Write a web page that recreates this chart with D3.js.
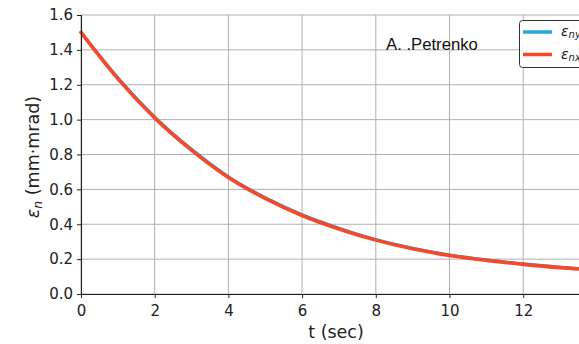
<!DOCTYPE html>
<html><head><meta charset="utf-8">
<script src="https://cdn.jsdelivr.net/npm/d3@7"></script>
<style>body{margin:0;background:#fff;}svg{display:block;}</style>
</head><body>
<svg id="c" width="579" height="344"></svg>
<script>
const tValues = [0,1,2,3,4,5,6,7,8,9,10,11,12,13,14];
const enx = [1.50,1.235,1.01,0.825,0.668,0.548,0.450,0.373,0.309,0.259,0.221,0.193,0.170,0.151,0.137];
const eny = [1.50,1.24,1.015,0.830,0.673,0.553,0.455,0.378,0.313,0.263,0.224,0.196,0.173,0.154,0.140];
const xTicks = [0,2,4,6,8,10,12];
const yTicks = [0.0,0.2,0.4,0.6,0.8,1.0,1.2,1.4,1.6];
const seriesNames = ["ny","nx"];
const seriesColors = ["#2ca4dc","#f5492b"];

const svg = d3.select("#c");
const x = d3.scaleLinear().domain([0,14]).range([81, 81+14*36.85]);
const y = d3.scaleLinear().domain([0,1.6]).range([294,15]);
const font = "DejaVu Sans, sans-serif";

// grid
const g = svg.append("g");
g.selectAll(".vg").data(xTicks).join("line")
  .attr("x1",d=>x(d)).attr("x2",d=>x(d)).attr("y1",y(0)).attr("y2",y(1.6))
  .attr("stroke","#b0b0b0").attr("stroke-width",1);
g.selectAll(".hg").data(yTicks).join("line")
  .attr("x1",x(0)).attr("x2",579).attr("y1",d=>y(d)).attr("y2",d=>y(d))
  .attr("stroke","#b0b0b0").attr("stroke-width",1);

// lines
const line = d3.line().x((d,i)=>x(tValues[i])).y(d=>y(d)).curve(d3.curveMonotoneX);
[eny, enx].forEach((s,k)=>{
  svg.append("path").datum(s).attr("d",line).attr("fill","none")
    .attr("stroke",seriesColors[k]).attr("stroke-width",k===0?3:3.6)
    .attr("stroke-linecap","round");
});

// axes
const xa = svg.append("g").attr("transform",`translate(0,${y(0)})`)
  .call(d3.axisBottom(x).tickValues(xTicks).tickFormat(d3.format("d")).tickSize(4).tickPadding(7));
const ya = svg.append("g").attr("transform",`translate(${x(0)},0)`)
  .call(d3.axisLeft(y).tickValues(yTicks).tickFormat(d3.format(".1f")).tickSize(4).tickPadding(4));
[xa,ya].forEach(a=>{
  a.select(".domain").attr("stroke","#222").attr("stroke-width",1.1);
  a.selectAll(".tick line").attr("stroke","#222");
  a.selectAll("text").attr("font-family",font).attr("font-size",15).attr("fill","#222");
});
xa.select(".domain").attr("d",`M${x(0)},0.5H579`);

// axis labels
svg.append("text").attr("x",336).attr("y",338).attr("text-anchor","middle")
  .attr("font-family",font).attr("font-size",17.5).attr("fill","#222").text("t (sec)");
const yl = svg.append("text").attr("transform","translate(39,157) rotate(-90)")
  .attr("text-anchor","middle").attr("font-family",font).attr("font-size",17.5).attr("fill","#222");
yl.append("tspan").attr("font-style","italic").text("ε");
yl.append("tspan").attr("font-style","italic").attr("font-size",12.5).attr("dy",3).text("n");
yl.append("tspan").attr("dy",-3).text(" (mm·mrad)");

// annotation
svg.append("text").attr("x",386).attr("y",50).attr("font-family","Liberation Sans, Arial, sans-serif")
  .attr("font-size",16.7).attr("fill","#111").text("A. .Petrenko");

// legend
const lg = svg.append("g");
lg.append("rect").attr("x",519.5).attr("y",20.5).attr("width",80).attr("height",47).attr("rx",3)
  .attr("fill","#fff").attr("fill-opacity",0.9).attr("stroke","#333").attr("stroke-width",1);
seriesNames.forEach((n,i)=>{
  const yy = 32 + i*22.5;
  lg.append("line").attr("x1",523).attr("x2",552).attr("y1",yy).attr("y2",yy)
    .attr("stroke",seriesColors[i]).attr("stroke-width",3.5);
  const t = lg.append("text").attr("x",561).attr("y",yy+4).attr("font-family",font)
    .attr("font-size",14).attr("font-style","italic").attr("fill","#222");
  t.append("tspan").text("ε");
  t.append("tspan").attr("font-size",10).attr("dy",2).text(n);
});
</script>
</body></html>
